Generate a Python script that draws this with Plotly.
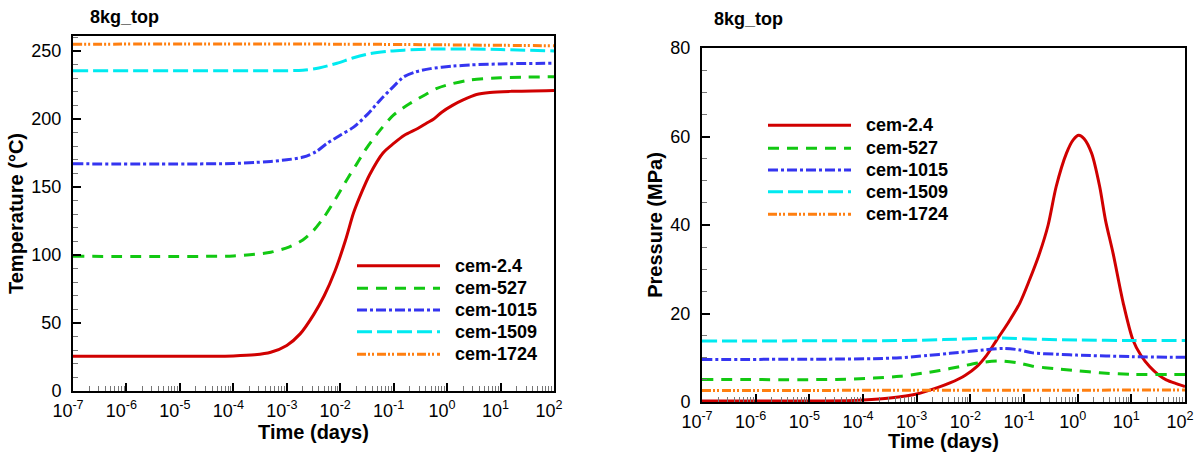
import numpy as np
import plotly.graph_objects as go

# ---------------- data (time as log10(days)) ----------------
names = ["cem-2.4", "cem-527", "cem-1015", "cem-1509", "cem-1724"]
colors = ["#d00000", "#12c812", "#3535f0", "#00eaf0", "#ff7f10"]
dashes = ["solid", "11px,8px", "10px,3px,3px,3px", "15px,5px", "9px,2px,2px,2px,2px,3px"]

# Temperature (°C)
temp_logt_24 = [-7, -4.5, -4, -3.6, -3.3, -3.0, -2.75, -2.5, -2.3, -2.1, -1.9, -1.75, -1.6, -1.45, -1.2, -1.0, -0.8, -0.55, -0.38, -0.25, -0.1, 0.1, 0.3, 0.55, 0.8, 1.2, 2]
temp_val_24 = [25.5, 25.6, 25.8, 26.6, 28.5, 33.5, 42, 56, 70, 88, 111, 131, 146, 159, 175, 182, 188, 193, 197, 200, 205, 210, 214, 218, 219.5, 220.3, 221]
temp_logt_527 = [-7, -4.5, -4, -3.6, -3.3, -2.95, -2.7, -2.5, -2.3, -2.06, -1.85, -1.69, -1.5, -1.25, -1.0, -0.69, -0.4, -0.19, 0.1, 0.43, 1, 2]
temp_val_527 = [99, 99, 99.3, 100.5, 102, 106, 111, 118, 128, 143, 157, 167, 179, 192, 203, 211.5, 218, 222.5, 226, 228.7, 230.3, 231]
temp_logt_1015 = [-7, -4.5, -4, -3.6, -3.3, -3, -2.69, -2.45, -2.25, -2, -1.75, -1.5, -1.25, -1.0, -0.81, -0.6, -0.31, 0.1, 0.43, 1, 2]
temp_val_1015 = [167, 167, 167.3, 168, 168.8, 170, 172, 176, 182, 188, 194, 203, 214, 224, 231, 234.5, 237, 238.8, 239.7, 240.5, 241]
temp_logt_1509 = [-7, -3, -2.7, -2.4, -2.06, -1.75, -1.44, -1.1, -0.81, -0.3, 0.4, 1, 2]
temp_val_1509 = [235.5, 235.5, 235.8, 237.5, 241, 245, 248, 249.8, 250.6, 251.4, 251.5, 251, 250]
temp_logt_1724 = [-7, -2, 0, 2]
temp_val_1724 = [255, 255, 254.5, 253.8]

# Pressure (MPa)
pres_logt_24 = [-7, -5, -4.3, -4, -3.5, -3.0, -2.6, -2.38, -2.1, -1.88, -1.7, -1.51, -1.3, -1.08, -0.9, -0.71, -0.55, -0.4, -0.21, -0.08, 0.02, 0.12, 0.26, 0.41, 0.52, 0.66, 0.85, 1.03, 1.18, 1.34, 1.5, 1.65, 1.85, 2]
pres_val_24 = [0.2, 0.2, 0.3, 0.45, 0.9, 1.8, 3.3, 4.3, 6, 8, 10.5, 14, 17.8, 22.3, 27.5, 33.6, 40, 48.7, 56.2, 59.3, 60.3, 59.5, 56.2, 48.7, 41, 33.6, 22.3, 14, 10.5, 8, 6.2, 5, 4.1, 3.5]
pres_logt_527 = [-7, -4.5, -3.8, -3.31, -2.9, -2.57, -2.2, -1.82, -1.45, -1.1, -0.84, -0.4, -0.02, 0.41, 1.03, 2]
pres_val_527 = [5.1, 5.1, 5.4, 5.8, 6.5, 7.1, 8.0, 8.9, 9.3, 8.8, 8.1, 7.5, 7.1, 6.6, 6.25, 6.2]
pres_logt_1015 = [-7, -4.5, -3.8, -3.31, -2.8, -2.38, -1.76, -1.39, -1.1, -0.84, -0.4, -0.02, 1, 2]
pres_val_1015 = [9.6, 9.7, 9.8, 10.0, 10.5, 11.0, 11.75, 12.1, 11.8, 11.1, 10.8, 10.6, 10.25, 10.1]
pres_logt_1509 = [-7, -3.3, -2.5, -1.76, -1.39, -0.8, 0, 1, 2]
pres_val_1509 = [13.8, 13.9, 14.1, 14.4, 14.45, 14.2, 14.0, 13.9, 13.9]
pres_logt_1724 = [-7, 2]
pres_val_1724 = [2.6, 2.7]

xtick_exps = list(range(-7, 3))

temp_series = [(temp_logt_24, temp_val_24), (temp_logt_527, temp_val_527), (temp_logt_1015, temp_val_1015),
               (temp_logt_1509, temp_val_1509), (temp_logt_1724, temp_val_1724)]
pres_series = [(pres_logt_24, pres_val_24), (pres_logt_527, pres_val_527), (pres_logt_1015, pres_val_1015),
               (pres_logt_1509, pres_val_1509), (pres_logt_1724, pres_val_1724)]

FONT = "Liberation Sans, Arial, sans-serif"
W, H = 1203, 452
TICK_FONT = dict(family=FONT, size=18, color="black")

fig = go.Figure()
for i, (lt, v) in enumerate(temp_series):
    fig.add_trace(go.Scatter(x=10.0 ** np.array(lt), y=v, mode="lines", name=names[i],
                             line=dict(color=colors[i], width=3, dash=dashes[i], shape="spline", smoothing=0.8),
                             xaxis="x", yaxis="y", showlegend=False))
for i, (lt, v) in enumerate(pres_series):
    fig.add_trace(go.Scatter(x=10.0 ** np.array(lt), y=v, mode="lines", name=names[i],
                             line=dict(color=colors[i], width=3, dash=dashes[i], shape="spline", smoothing=0.8),
                             xaxis="x2", yaxis="y2", showlegend=False))

tickvals = [10.0 ** e for e in xtick_exps]
ticktext = ["10<sup>%d</sup>" % e for e in xtick_exps]
minor_vals = [k * 10.0 ** e for e in xtick_exps[:-1] for k in range(2, 10)]

def xaxis(domain, anchor):
    return dict(type="log", range=[-7, 2], domain=domain, anchor=anchor, automargin=False,
                tickmode="array", tickvals=tickvals, ticktext=ticktext, ticks="inside", ticklen=8, tickwidth=2,
                tickcolor="black", showline=True, linecolor="black", linewidth=2, mirror=True,
                showgrid=False, zeroline=False, ticklabelshift=-5, ticklabelstandoff=2,
                tickfont=TICK_FONT,
                minor=dict(tickvals=minor_vals, ticks="inside", ticklen=5, tickwidth=1, tickcolor="#777", showgrid=False),
                title=dict(text="<b>Time (days)</b>", font=dict(family=FONT, size=20, color="black"), standoff=4))

def yaxis(domain, anchor, rng, dt, mdt, title):
    return dict(range=rng, domain=domain, anchor=anchor, automargin=False, tickmode="linear", dtick=dt, tick0=0,
                ticks="inside", ticklen=8, tickwidth=2,
                tickcolor="black", showline=True, linecolor="black", linewidth=2, mirror=True,
                showgrid=False, zeroline=False, ticklabelstandoff=6,
                tickfont=TICK_FONT,
                minor=dict(dtick=mdt, ticks="inside", ticklen=5, tickwidth=1, tickcolor="#777", showgrid=False),
                title=dict(text=title, font=dict(family=FONT, size=20, color="black"), standoff=2))

fig.update_layout(
    width=W, height=H, margin=dict(l=0, r=0, t=0, b=0, autoexpand=False),
    font=dict(family=FONT, size=18, color="black"),
    paper_bgcolor="white", plot_bgcolor="white", showlegend=False,
    xaxis=xaxis([73 / W, 554 / W], "y"),
    yaxis=yaxis([1 - 391 / H, 1 - 36 / H], "x", [0, 261], 50, 10, "<b>Temperature (°C)</b>"),
    xaxis2=xaxis([702 / W, 1185 / W], "y2"),
    yaxis2=yaxis([1 - 402 / H, 1 - 48 / H], "x2", [0, 80], 20, 5, "<b>Pressure (MPa)</b>"),
)

# titles
fig.add_annotation(text="<b>8kg_top</b>", x=88 / W, y=1 - 17 / H, xref="paper", yref="paper",
                   xanchor="left", yanchor="middle", showarrow=False, font=dict(family=FONT, size=18, color="black"))
fig.add_annotation(text="<b>8kg_top</b>", x=712 / W, y=1 - 19 / H, xref="paper", yref="paper",
                   xanchor="left", yanchor="middle", showarrow=False, font=dict(family=FONT, size=18, color="black"))

# legends (line samples + labels)
def add_legend(x0, x1, xt, ys):
    for i, yy in enumerate(ys):
        fig.add_shape(type="line", xref="paper", yref="paper", x0=x0 / W, x1=x1 / W, y0=1 - yy / H, y1=1 - yy / H,
                      line=dict(color=colors[i], width=3, dash=dashes[i]))
        fig.add_annotation(text="<b>%s</b>" % names[i], x=xt / W, y=1 - yy / H, xref="paper", yref="paper",
                           xanchor="left", yanchor="middle", showarrow=False,
                           font=dict(family=FONT, size=18, color="black"))

add_legend(357, 440, 453, [265.7, 288.3, 310, 331.7, 354.3])
add_legend(768, 851, 864, [125.3, 148.3, 170, 191.7, 214.3])

fig.write_html("out.html")
